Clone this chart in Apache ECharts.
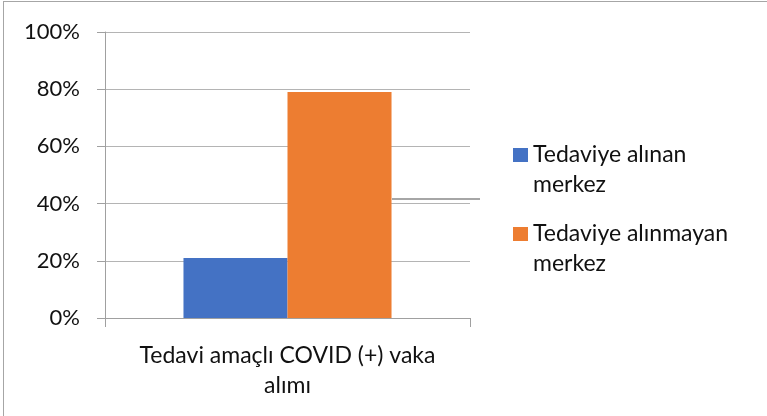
<!DOCTYPE html>
<html>
<head>
<meta charset="utf-8">
<script src="https://cdn.jsdelivr.net/npm/echarts@6/dist/echarts.min.js"></script>
<style>
  html, body { margin: 0; padding: 0; background: #fff; }
  .frame {
    position: absolute; left: 3px; top: 1px; width: 764px; height: 415px;
    border-left: 1px solid #a6a6a6; border-top: 1px solid #a6a6a6;
  }
  #chart { position: absolute; left: 0; top: 0; width: 767px; height: 416px; }
</style>
</head>
<body>
<div class="frame"></div>
<div id="chart"></div>
<script>
const categories = ['Tedavi amaçlı COVID (+) vaka alımı']
const seriesNames = ['Tedaviye alınan merkez', 'Tedaviye alınmayan merkez']
const alinan = [21]
const alinmayan = [79]
const yTicks = [0, 20, 40, 60, 80, 100]

const font = 'Lato, "Open Sans", sans-serif'
const chart = echarts.init(document.getElementById('chart'))
chart.setOption({
  animation: false,
  textStyle: { fontFamily: font },
  grid: { left: 105, right: 297, top: 32, bottom: 98, containLabel: false },
  legend: {
    orient: 'vertical',
    left: 513,
    top: 110,
    padding: 0,
    itemGap: -11,
    itemWidth: 15,
    itemHeight: 14,
    icon: 'rect',
    data: seriesNames,
    // blank first line keeps the marker level with the first text line
    formatter: name => '\n' + name.replace(/ (merkez)$/, '\n$1'),
    textStyle: {
      fontFamily: font, fontSize: 23, color: '#111',
      lineHeight: 30
    }
  },
  xAxis: {
    type: 'category',
    data: categories,
    axisLine: { lineStyle: { color: '#a0a0a0', width: 1 } },
    axisTick: { show: true, length: 9, lineStyle: { color: '#a0a0a0' } },
    axisLabel: {
      margin: 23,
      fontSize: 23,
      color: '#111',
      lineHeight: 30,
      formatter: v => v.replace(/ (alımı)$/, '\n$1')
    }
  },
  yAxis: {
    type: 'value',
    min: 0,
    max: 100,
    interval: 20,
    axisLine: { show: true, lineStyle: { color: '#a0a0a0' } },
    axisTick: { show: true, length: 8, lineStyle: { color: '#a0a0a0' } },
    splitLine: { lineStyle: { color: '#b4b4b4', width: 1 } },
    axisLabel: {
      margin: 25,
      fontSize: 22,
      color: '#111',
      formatter: v => yTicks.includes(v) ? v + '%' : ''
    }
  },
  series: [
    {
      name: seriesNames[0], type: 'bar', data: alinan,
      itemStyle: { color: '#4472C4' },
      barGap: '0%', barCategoryGap: '43%'
    },
    {
      name: seriesNames[1], type: 'bar', data: alinmayan,
      itemStyle: { color: '#ED7D31' },
      barGap: '0%', barCategoryGap: '43%'
    }
  ],
  graphic: [{
    type: 'line',
    shape: { x1: 392, y1: 199, x2: 480, y2: 199 },
    style: { stroke: '#888888', lineWidth: 1.5 },
    z: 100
  }]
})
</script>
</body>
</html>
